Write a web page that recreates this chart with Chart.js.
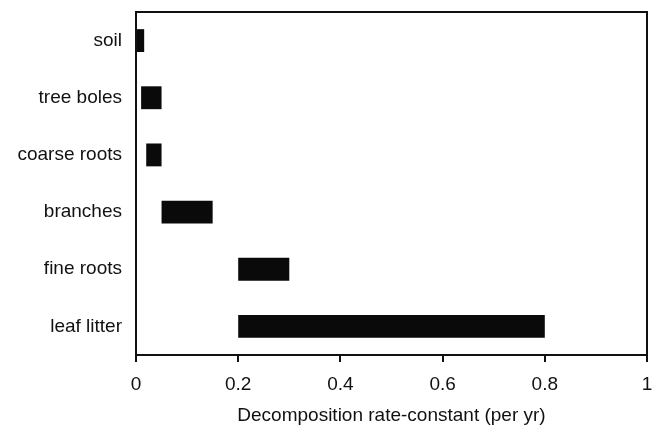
<!DOCTYPE html>
<html>
<head>
<meta charset="utf-8">
<script src="https://cdn.jsdelivr.net/npm/chart.js@4/dist/chart.umd.min.js"></script>
<style>
html,body{margin:0;padding:0;background:#fff;}
#wrap{width:655px;height:425px;}
</style>
</head>
<body>
<div id="wrap"><canvas id="c" width="655" height="425"></canvas></div>
<script>
const categories = ["soil", "tree boles", "coarse roots", "branches", "fine roots", "leaf litter"];
const rateMin = [0.0, 0.01, 0.02, 0.05, 0.2, 0.2];
const rateMax = [0.016, 0.05, 0.05, 0.15, 0.3, 0.8];
const xTicks = [0, 0.2, 0.4, 0.6, 0.8, 1];
const xTitle = "Decomposition rate-constant (per yr)";

const FONT = "'Liberation Sans', Arial, Helvetica, sans-serif";

const framePlugin = {
  id: 'frame',
  afterDraw(chart) {
    const {ctx, chartArea: a} = chart;
    ctx.save();
    ctx.strokeStyle = '#111';
    ctx.lineWidth = 2;
    ctx.strokeRect(a.left, a.top, a.right - a.left, a.bottom - a.top);
    ctx.restore();
  }
};

new Chart(document.getElementById('c'), {
  type: 'bar',
  data: {
    labels: categories,
    datasets: [{
      data: categories.map((c, i) => [rateMin[i], rateMax[i]]),
      backgroundColor: '#0a0a0a',
      borderColor: '#0a0a0a',
      borderWidth: 0,
      borderSkipped: false,
      barPercentage: 0.4,
      categoryPercentage: 1.0
    }]
  },
  options: {
    indexAxis: 'y',
    responsive: false,
    animation: false,
    devicePixelRatio: 1,
    layout: {padding: {top: 12, right: 8, left: 0, bottom: 0}},
    plugins: {legend: {display: false}, tooltip: {enabled: false}},
    scales: {
      x: {
        min: 0, max: 1,
        afterBuildTicks(scale) { scale.ticks = xTicks.map(v => ({value: v})); },
        afterFit(scale) { scale.height = 70; scale.paddingRight = 0; scale.paddingLeft = 0; },
        grid: {drawOnChartArea: false, drawTicks: true, tickLength: 7, tickColor: '#111', lineWidth: 2},
        border: {display: true, color: '#111', width: 2},
        ticks: {
          color: '#111', padding: 11,
          font: {family: FONT, size: 19},
          callback: (v) => String(v)
        },
        title: {
          display: true, text: xTitle, color: '#111',
          font: {family: FONT, size: 19},
          padding: {top: 8, bottom: -2}
        }
      },
      y: {
        afterFit(scale) { scale.width = 136; scale.paddingTop = 0; scale.paddingBottom = 0; },
        grid: {display: false, drawTicks: false},
        border: {display: true, color: '#111', width: 2},
        ticks: {
          color: '#111', padding: 14,
          font: {family: FONT, size: 19}
        }
      }
    }
  },
  plugins: [framePlugin]
});
</script>
</body>
</html>
